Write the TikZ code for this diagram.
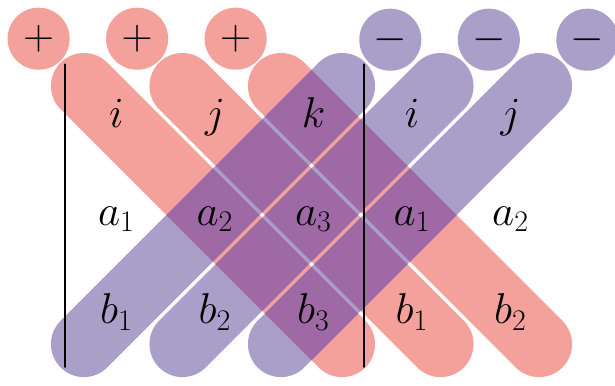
\documentclass[tikz,border=0pt]{standalone}
\usetikzlibrary{positioning}

\definecolor{redband}{RGB}{244,161,156}
\definecolor{blueband}{RGB}{170,159,200}
\definecolor{mixband}{RGB}{158,105,165}

\begin{document}
\begin{tikzpicture}[x=2cm,y=-2cm,line cap=round,line join=round,
	redstrip/.style={line width=1.34cm,color=redband},
	bluestrip/.style={line width=1.34cm,color=blueband},
	overlap/.style={fill=mixband},
	sign/.style={circle,minimum size=1.26cm,inner sep=0pt,font=\fontsize{26}{30}\selectfont},
	entry/.style={font=\fontsize{25}{30}\selectfont,inner sep=0pt,text height=0.7em,text depth=0.2em},
	bar/.style={line width=1.2pt,color=black}]
	\useasboundingbox (-1.162,-1.183) rectangle (5.081,2.726);
	
	% Bandes
	\foreach \k in {0,1,2} {
		\draw[redstrip] (\k-0.31,-0.31) -- (\k+2.31,2.31);
	}
	\foreach \m in {0,1,2} {
		\draw[bluestrip] (\m-0.31,2.31) -- (\m+2.31,-0.31);
	}
	%% Intersections
	\foreach \k in {0,1,2} {
		\foreach \m in {0,1,2} {
			\fill[overlap] ({(\m+\k+2)/2},{(\m-\k+2)/2}) ++(-0.474,0) -- ++(0.474,-0.474) -- ++(0.474,0.474) -- ++(-0.474,0.474) -- cycle;
		}
	}
	
	% Barres
	\coordinate (barAtop) at (-0.5,-0.53);
	\coordinate (barAbot) at (-0.5,2.54);
	\coordinate (barBtop) at (2.53,-0.53);
	\coordinate (barBbot) at (2.53,2.54);
	\draw[bar] (barAtop) -- (barAbot);
	\draw[bar] (barBtop) -- (barBbot);
	
	% Coefficients
	\foreach \lab [count=\c from 0] in {i,j,k,i,j}
		\node[entry] (e\c) at (\c+0.02,0.07) {$\lab$};
	\foreach \lab [count=\c from 0] in {a_1,a_2,a_3,a_1,a_2}
		\node[entry] (a\c) at (\c+0.02,1.06) {$\lab$};
	\foreach \lab [count=\c from 0] in {b_1,b_2,b_3,b_1,b_2}
		\node[entry] (b\c) at (\c+0.02,2.06) {$\lab$};
	
	% Signes
	\foreach \c in {0,1,2} {
		\node[sign,fill=redband] (plus\c) at (\c-0.77,-0.79) {$+$};
		\node[sign,fill=blueband] (minus\c) at (\c+2.8,-0.78) {$-$};
	}
\end{tikzpicture}
\end{document}
